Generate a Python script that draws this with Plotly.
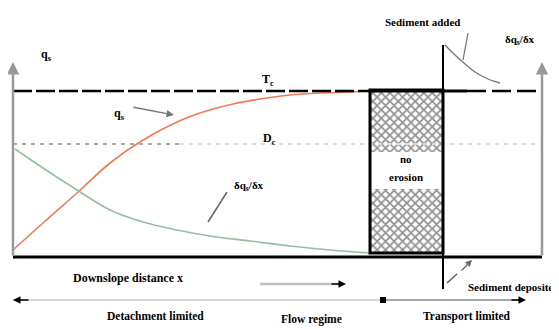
import plotly.graph_objects as go

# Schematic coordinates (pixel-like units of the figure, y grows downward)
dist_x   = [13, 43, 77, 110, 143, 177, 200, 233, 260, 290, 320, 350, 370]
qs_vals  = [250, 223, 193, 163, 140, 122, 113, 104, 99, 95, 93, 92, 91]
green_x  = [15, 43, 77, 110, 143, 177, 210, 250, 290, 330, 370]
dqs_vals = [149, 168, 190, 210, 222, 230, 236, 241, 246, 250, 253]
added_x  = [445, 455, 465, 475, 488, 500]
added_y  = [45, 55, 64, 72, 79, 83]
tc_level = 91
dc_level = 144
box_x = [370, 443]
box_y = [90, 253]

FONT = "Liberation Serif"
fig = go.Figure()

# hatched parts of the no-erosion box
for base, h in [(92, 60), (189, 63)]:
    fig.add_trace(go.Bar(x=[(box_x[0]+box_x[1])/2], y=[h], base=[base], width=[box_x[1]-box_x[0]],
                         marker=dict(color="white", line=dict(width=0),
                                     pattern=dict(shape="x", fgcolor="#222", bgcolor="white", size=6, solidity=0.5)),
                         showlegend=False, hoverinfo="skip"))

fig.add_trace(go.Scatter(x=dist_x, y=qs_vals, mode="lines", line=dict(color="#f2795a", width=1.6, shape="spline"),
                         showlegend=False, hoverinfo="skip"))
fig.add_trace(go.Scatter(x=green_x, y=dqs_vals, mode="lines", line=dict(color="#93bfa0", width=1.6, shape="spline"),
                         showlegend=False, hoverinfo="skip"))
fig.add_trace(go.Scatter(x=added_x, y=added_y, mode="lines", line=dict(color="#777", width=1.3, shape="spline"),
                         showlegend=False, hoverinfo="skip"))

shapes = []
def line(x0, y0, x1, y1, color="black", width=2, dash="solid"):
    shapes.append(dict(type="line", xref="x", yref="y", x0=x0, y0=y0, x1=x1, y1=y1,
                       line=dict(color=color, width=width, dash=dash)))

line(13, 257, 542, 257, width=3)                       # base line
line(13, tc_level, 370, tc_level, width=2.5, dash="19px,4px")
line(370, tc_level, 467, tc_level, width=3)
line(467, tc_level, 542, tc_level, width=2.5, dash="19px,6px")
line(13, dc_level, 180, dc_level, color="#aaa", width=2, dash="4px,5px")
line(180, dc_level, 542, dc_level, color="#ddd", width=2, dash="4px,5px")
shapes.append(dict(type="rect", xref="x", yref="y", x0=box_x[0], x1=box_x[1], y0=box_y[0], y1=box_y[1],
                   line=dict(color="black", width=3)))
line(443, 45, 443, 289, width=2)
line(468, 33, 463, 60, color="#777", width=1.3)
line(227, 192, 208, 222, color="#666", width=1.5)
line(447, 283, 457, 274, color="#555", width=1.3)
line(383, 300, 523, 300, color="#888", width=1.5)
line(13, 300, 383, 300, color="#dcd6d6", width=2)
line(260, 284, 340, 284, color="#c4bcbc", width=2.5)

annotations = []
def arrow(x, y, ax, ay, color="#888", width=1.5, head=2):
    annotations.append(dict(x=x, y=y, ax=ax, ay=ay, xref="x", yref="y", axref="x", ayref="y",
                            showarrow=True, arrowhead=head, arrowsize=1, arrowwidth=width,
                            arrowcolor=color, text=""))

arrow(13, 62, 13, 257, color="#999", width=2.5)
arrow(542, 62, 542, 257, color="#999", width=2.5)
arrow(174, 115, 132, 107, color="#777", width=1.5)
arrow(472, 260, 460, 272, color="#666", width=1.3)
arrow(346, 284, 330, 284, color="black", width=1.5)
arrow(13, 300, 30, 300, color="black", width=1.5)
arrow(526, 300, 510, 300, color="black", width=1.5)
shapes.append(dict(type="rect", xref="x", yref="y", x0=380, x1=386, y0=297, y1=303,
                   fillcolor="black", line=dict(width=0)))

def text(x, y, s, size=10, anchor="center", color="black"):
    annotations.append(dict(x=x, y=y, xref="x", yref="y", text=s, showarrow=False, xanchor=anchor,
                            font=dict(family=FONT, size=size, color=color)))

text(46, 55, "<b>q<sub>s</sub></b>", 12)
text(268, 80, "<b>T<sub>c</sub></b>", 12)
text(269, 139, "<b>D<sub>c</sub></b>", 12)
text(119, 114, "<b>q<sub>s</sub></b>", 12)
text(249, 186, "<b>δq<sub>s</sub>/δx</b>", 11)
text(520, 40, "<b>δq<sub>s</sub>/δx</b>", 11)
text(423, 22, "<b>Sediment added</b>", 11)
text(406, 159, "<b>no</b>", 11)
text(406, 177, "<b>erosion</b>", 11)
text(128, 278, "<b>Downslope distance x</b>", 12)
text(155, 316, "<b>Detachment limited</b>", 11.5)
text(311, 319, "<b>Flow regime</b>", 11.5)
text(467, 316, "<b>Transport limited</b>", 11.5)
text(466, 287, "<b>Sediment deposited</b>", 11, anchor="left")

# page body adds an 8px offset; shift the ranges so units equal page pixels
fig.update_layout(
    width=559, height=329, margin=dict(l=0, r=0, t=0, b=0),
    paper_bgcolor="white", plot_bgcolor="white", barmode="overlay",
    xaxis=dict(range=[8, 567], visible=False, fixedrange=True),
    yaxis=dict(range=[337, 8], visible=False, fixedrange=True),
    shapes=shapes, annotations=annotations, showlegend=False,
)
fig.write_html("out.html")
